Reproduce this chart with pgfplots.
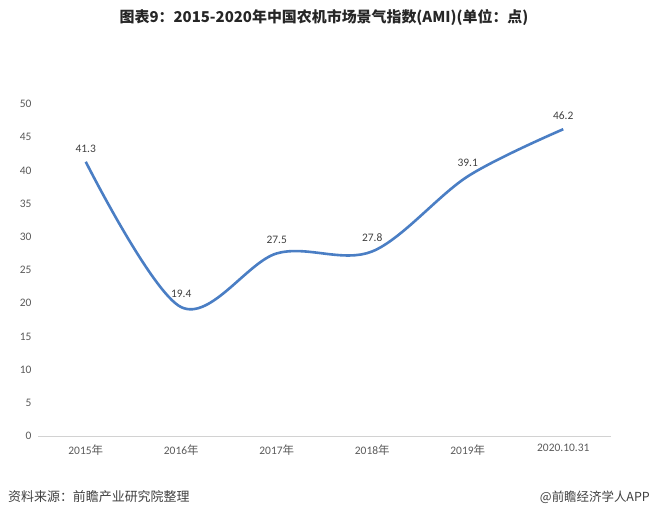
\documentclass[border=0pt]{standalone}
\usepackage{pgfplots}
\pgfplotsset{compat=1.18}
\usepackage{fontspec}
\setmainfont{Carlito}
\newfontfamily\cjk{Noto Sans CJK SC}
\definecolor{lineblue}{RGB}{74,126,196}
\definecolor{tickgray}{RGB}{89,89,89}
\definecolor{labgray}{RGB}{64,64,64}
\definecolor{titlegray}{RGB}{38,38,38}
\begin{document}
\begin{tikzpicture}[x=1bp,y=1bp]
\useasboundingbox (0,0) rectangle (650,518);
\node[font=\cjk\bfseries\fontsize{15}{18}\selectfont, text=titlegray] at (324,500) {图表9：2015-2020年中国农机市场景气指数(AMI)(单位：点)};
\node[anchor=west, font=\cjk\fontsize{13}{15}\selectfont, text=labgray, inner sep=0] at (8,21) {资料来源：前瞻产业研究院整理};
\node[anchor=east, font=\cjk\fontsize{12.5}{15}\selectfont, text=labgray, inner sep=0] at (650,21) {@前瞻经济学人APP};
\begin{axis}[
  at={(38bp,82bp)}, anchor=south west,
  scale only axis, width=573bp, height=332bp,
  xmin=-0.5, xmax=5.5, ymin=0, ymax=50,
  ytick={0,5,...,50}, xtick={0,...,5},
  xticklabels={2015{\cjk 年},2016{\cjk 年},2017{\cjk 年},2018{\cjk 年},2019{\cjk 年},2020.10.31},
  axis line style={draw=none},
  tick style={draw=none},
  major tick length=0pt,
  /pgf/number format/assume math mode=true,
  yticklabel style={font=\fontsize{11.5}{13}\selectfont, text=tickgray, xshift=-3bp},
  xticklabel style={font=\fontsize{11.5}{13}\selectfont, text=tickgray, yshift=-5bp},
  clip=false,
]
\draw[gray!35, line width=0.8bp] (axis cs:-0.5,0) -- (axis cs:5.5,0);
\addplot[lineblue, line width=2.6bp, smooth, tension=0.55,
  nodes near coords,
  point meta=explicit symbolic,
  every node near coord/.style={font=\fontsize{11.5}{13}\selectfont, text=labgray, anchor=south, yshift=5bp}]
  table[meta=lab] {
x y lab
0 41.3 41.3
1 19.4 19.4
2 27.5 27.5
3 27.8 27.8
4 39.1 39.1
5 46.2 46.2
};
\end{axis}
\end{tikzpicture}
\end{document}
